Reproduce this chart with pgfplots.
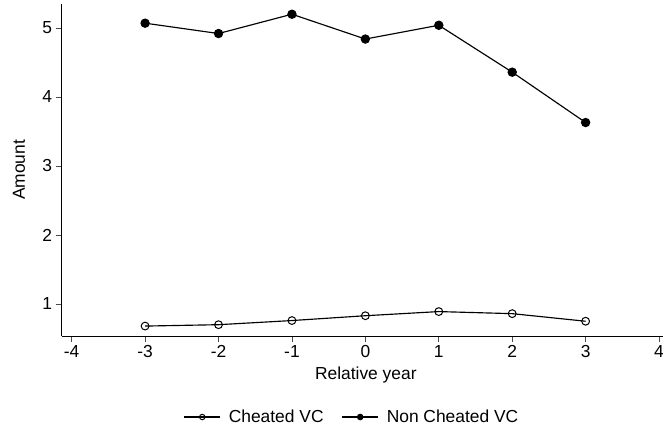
\documentclass[border=0pt]{standalone}
\usepackage{pgfplots}
\pgfplotsset{compat=1.18}
\usepackage{fontspec}
\setmainfont{Liberation Sans}
\newcommand{\fs}{\fontsize{17.4}{20}\selectfont}
\begin{document}
\begin{tikzpicture}
\begin{axis}[
  scale only axis,
  width=601pt, height=332pt,
  xmin=-4.136, xmax=4.05,
  ymin=0.536, ymax=5.348,
  axis x line=bottom, axis y line=left,
  axis line style={-, line width=0.9pt, black},
  xtick={-4,-3,-2,-1,0,1,2,3,4},
  ytick={1,2,3,4,5},
  tick align=outside,
  major tick length=6pt,
  tick style={line width=0.8pt, black!70},
  /pgf/number format/assume math mode=true,
  tick label style={font=\fs, black},
  label style={font=\fs},
  xlabel={Relative year},
  ylabel={Amount},
  xlabel style={at={(axis description cs:0.506,-0.118)}, anchor=center},
  ylabel style={at={(axis description cs:-0.071,0.5)}, anchor=center, rotate=0},
  legend columns=2,
  legend style={draw=none, font=\fs, at={(axis description cs:0.483,-0.244)}, anchor=center,
    /tikz/every odd column/.append style={column sep=6pt},
    /tikz/every even column/.append style={column sep=16pt}},
  legend cell align=left,
  legend image code/.code={\draw[#1, mark size=2.7pt, mark repeat=2, mark phase=2] plot coordinates {(0pt,0pt) (18pt,0pt) (36pt,0pt)};},
]
\addplot[black, line width=1.15pt, mark=o, mark size=3.9pt, mark options={solid, line width=1pt, fill=white}]
coordinates {(-3,0.68) (-2,0.70) (-1,0.76) (0,0.83) (1,0.89) (2,0.86) (3,0.75)};
\addlegendentry{Cheated VC}
\addplot[black, line width=1.15pt, mark=*, mark size=4.1pt, mark options={solid, fill=black}]
coordinates {(-3,5.07) (-2,4.92) (-1,5.20) (0,4.84) (1,5.04) (2,4.36) (3,3.63)};
\addlegendentry{Non Cheated VC}
\end{axis}
\pgfresetboundingbox
\path[use as bounding box] (-61.7pt,-96pt) rectangle (601.3pt,336pt);
\end{tikzpicture}
\end{document}
